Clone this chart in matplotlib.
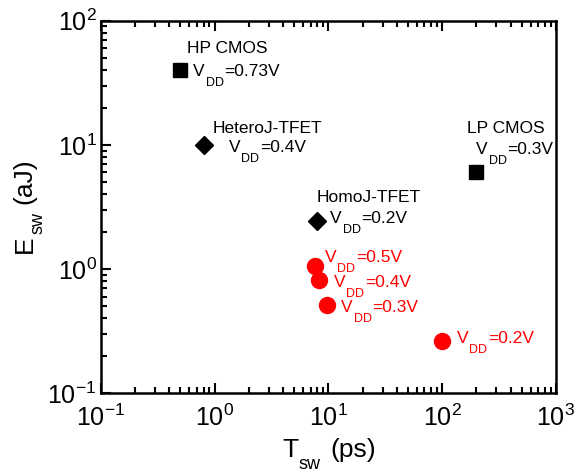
import numpy as np
import matplotlib.pyplot as plt
from matplotlib.ticker import LogLocator, NullFormatter

plt.rcParams['font.family'] = ['Liberation Sans', 'DejaVu Sans']
plt.rcParams['mathtext.fontset'] = 'custom'
plt.rcParams['mathtext.rm'] = 'Liberation Sans'
plt.rcParams['mathtext.it'] = 'Liberation Sans:italic'
plt.rcParams['mathtext.bf'] = 'Liberation Sans:bold'

# ── data (switching time in ps, switching energy in aJ) ──────────────────────
cmos_names = ["HP CMOS", "LP CMOS"]
cmos_vdd = ["=0.73V", "=0.3V"]
cmos_t = [0.5, 200]
cmos_e = [40, 6]

tfet_names = ["HeteroJ-TFET", "HomoJ-TFET"]
tfet_vdd = ["=0.4V", "=0.2V"]
tfet_t = [0.8, 8]
tfet_e = [10, 2.45]

red_vdd = ["=0.5V", "=0.4V", "=0.3V", "=0.2V"]
red_t = [7.6, 8.2, 9.8, 99]
red_e = [1.05, 0.81, 0.51, 0.265]

# label offsets in pixels: (name dx, name dy, vdd dx, vdd dy)
cmos_off = [(7, 17, 13, -6), (-9, 39, 0, 18)]
tfet_off = [(9, 12, 25, -7), (-1, 19, 13, -2)]
red_off = [(10, 4), (15, -7), (14, -7), (15, -2)]

fs = 12.5      # annotation font
sfs = 9        # annotation subscript font
drop = 10      # subscript baseline drop (px)

fig = plt.figure(figsize=(5.76, 4.72), dpi=100)
ax = fig.add_axes([0.175, 0.167, 0.79, 0.789])

ax.plot(cmos_t, cmos_e, 's', color='black', ms=10, ls='none')
ax.plot(tfet_t, tfet_e, 'D', color='black', ms=9.5, ls='none')
ax.plot(red_t, red_e, 'o', color='red', ms=11.5, ls='none')


def sub_text(main, sub, rest, x, y, dx, dy, color='black'):
    # main text, dropped subscript, then rest on the main baseline
    kw = dict(textcoords='offset pixels', ha='left', va='baseline', color=color)
    t1 = ax.annotate(main, (x, y), xytext=(dx, dy), fontsize=fs, **kw)
    t2 = ax.annotate(sub, (1, y), xycoords=(t1, 'data'), xytext=(1, dy - drop),
                     fontsize=sfs, **kw)
    ax.annotate(rest, (1, y), xycoords=(t2, 'data'), xytext=(0.5, dy),
                fontsize=fs, **kw)


for n, v, x, y, o in zip(cmos_names + tfet_names, cmos_vdd + tfet_vdd,
                         cmos_t + tfet_t, cmos_e + tfet_e, cmos_off + tfet_off):
    ax.annotate(n, (x, y), xytext=(o[0], o[1]), textcoords='offset pixels',
                fontsize=fs, ha='left', va='baseline')
    sub_text('V', 'DD', v, x, y, o[2], o[3])

for v, x, y, o in zip(red_vdd, red_t, red_e, red_off):
    sub_text('V', 'DD', v, x, y, o[0], o[1], color='red')

ax.set_xscale('log')
ax.set_yscale('log')
ax.set_xlim(0.1, 1000)
ax.set_ylim(0.1, 100)

ax.xaxis.set_minor_locator(LogLocator(base=10, subs=np.arange(2, 10), numticks=100))
ax.yaxis.set_minor_locator(LogLocator(base=10, subs=np.arange(2, 10), numticks=100))
ax.xaxis.set_minor_formatter(NullFormatter())
ax.yaxis.set_minor_formatter(NullFormatter())

ax.tick_params(which='both', direction='in', top=True, right=False,
               labelsize=18, width=1.5)
ax.tick_params(which='major', length=7)
ax.tick_params(which='minor', length=4)
ax.tick_params(axis='x', pad=8)
ax.tick_params(axis='y', pad=3)
for s in ax.spines.values():
    s.set_linewidth(1.8)

# ── axis labels with low subscripts ──────────────────────────────────────────
lfs, lsfs = 19, 13
kw = dict(textcoords='offset pixels', ha='left', va='baseline')
tx = ax.annotate('T', (0.5, 0), xycoords='axes fraction', xytext=(-46, -64),
                 fontsize=lfs, **kw)
ts = ax.annotate('sw', (1, 0), xycoords=(tx, 'axes fraction'), xytext=(0.5, -76),
                 fontsize=lsfs, **kw)
ax.annotate('(ps)', (1, 0), xycoords=(ts, 'axes fraction'), xytext=(9, -64),
            fontsize=lfs, **kw)

kw = dict(textcoords='offset pixels', ha='left', va='baseline',
          rotation=90, rotation_mode='anchor')
ey = ax.annotate('E', (0, 0.5), xycoords='axes fraction', xytext=(-69, -46),
                 fontsize=lfs, **kw)
es = ax.annotate('sw', (0, 1), xycoords=('axes fraction', ey), xytext=(-58, 1),
                 fontsize=lsfs, **kw)
ax.annotate('(aJ)', (0, 1), xycoords=('axes fraction', es), xytext=(-69, 8),
            fontsize=lfs, **kw)

fig.savefig('out.png', dpi=100)
